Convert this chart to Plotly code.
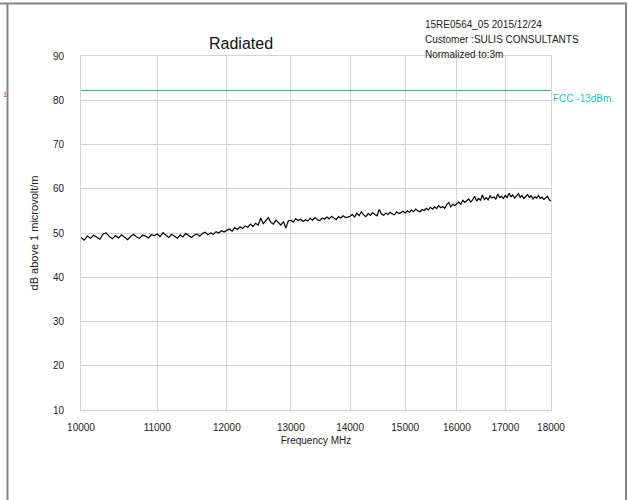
import plotly.graph_objects as go
import math

# ---- data ----
freq_start = 10000
freq_step = 40
level_dbuv = [
    # 10000-11000
    49.0, 48.4, 49.3, 48.8, 49.5, 49.1, 48.6, 49.8, 50.0, 49.2, 48.7, 49.4, 48.9, 49.6, 49.0, 48.5, 49.2, 49.7, 49.1, 48.8, 49.5, 49.3, 48.9, 49.6, 49.4,
    # 11000-12000
    49.8, 49.2, 50.1, 49.5, 49.0, 49.7, 49.3, 48.8, 49.6, 49.1, 49.9, 49.4, 49.0, 49.5, 49.8, 49.3, 49.9, 50.2, 49.6, 50.0, 49.7, 50.3, 50.0, 50.5, 50.2,
    # 12000-13000
    50.6, 50.9, 50.4, 51.2, 50.8, 51.4, 51.0, 51.6, 51.3, 52.0, 51.5, 52.2, 51.8, 53.4, 52.1, 52.8, 53.5, 52.4, 52.0, 52.9, 52.3, 51.8, 52.6, 51.1, 52.7,
    # 13000-14000
    52.9, 52.5, 53.2, 52.8, 53.1, 52.6, 53.0, 52.7, 53.3, 52.9, 53.5, 53.0, 52.8, 53.4, 53.1, 53.6, 53.2, 53.8, 53.3, 53.0, 53.7, 53.4, 53.9, 53.5, 53.6,
    # 14000-15000
    53.8, 54.2, 53.6, 54.5, 53.9, 54.8, 54.1, 53.7, 54.4, 54.0, 54.6, 54.2, 53.9, 55.3, 54.3, 54.0, 54.5, 54.2, 54.7, 54.3, 54.1, 54.8, 54.4, 54.6, 54.9,
    # 15000-16000
    54.5, 55.0, 54.7, 55.2, 54.8, 55.4, 55.0, 54.8, 55.3, 55.1, 55.6, 55.2, 55.8, 55.4, 55.9, 55.5, 56.2, 55.7, 56.0, 55.6, 56.4, 56.9, 55.9, 56.5, 56.2,
    # 16000-17000
    56.6, 57.0, 56.5, 57.4, 56.9, 57.2, 57.7, 57.0, 57.5, 58.3, 57.2, 57.8, 57.4, 58.6, 57.6, 58.0, 57.5, 58.4, 57.9, 58.2, 57.6, 58.8, 58.0, 58.3, 57.8,
    # 17000-18000
    58.5, 58.0, 59.0, 58.2, 58.6, 57.9, 58.4, 58.9, 58.1, 58.5, 57.8, 58.3, 58.7, 58.0, 58.4, 57.7, 58.2, 57.9, 58.5, 57.8, 58.1, 57.6, 57.9, 58.3, 57.5, 57.2,
]
freq_mhz = [freq_start + i * freq_step for i in range(len(level_dbuv))]

limit_name = "FCC -13dBm."
limit_value = 82.2
limit_freqs = [10000, 18000]

x_ticks = [10000, 11000, 12000, 13000, 14000, 15000, 16000, 17000, 18000]
y_ticks = [10, 20, 30, 40, 50, 60, 70, 80, 90]

title_text = "Radiated"
info_lines = ["15RE0564_05 2015/12/24", "Customer :SULIS CONSULTANTS", "Normalized to:3m"]
x_title = "Frequency MHz"
y_title = "dB above 1 microvolt/m"

# ---- layout geometry (pixels) ----
W, H = 628, 500
L, R, T, B = 81, 77, 56, 90
PW, PH = W - L - R, H - T - B


def px(x):
    return (x - L) / PW


def py(y):
    return (H - B - y) / PH


FONT = "Liberation Sans, Arial, Helvetica, sans-serif"
GRID = "#d4d4d4"

fig = go.Figure()
fig.add_trace(go.Scatter(x=freq_mhz, y=level_dbuv, mode="lines",
                         line=dict(color="black", width=1.2), showlegend=False,
                         hoverinfo="x+y"))
fig.add_trace(go.Scatter(x=limit_freqs, y=[limit_value] * len(limit_freqs), mode="lines",
                         line=dict(color="#23b0b4", width=1), showlegend=False))

annotations = [
    dict(text=title_text, x=px(241), y=py(33), xref="paper", yref="paper",
         showarrow=False, font=dict(size=16, color="#111", family=FONT)),
    dict(text=limit_name, x=1.0, y=limit_value, xref="paper", yref="y", xanchor="left",
         yanchor="top", xshift=0, showarrow=False, font=dict(size=10, color="#22c4d0", family=FONT)),
    dict(text="1", x=px(0.5), y=py(88), xref="paper", yref="paper", xanchor="left",
         showarrow=False, font=dict(size=8, color="#e03030", family=FONT)),
]
for i, line in enumerate(info_lines):
    annotations.append(dict(text=line, x=px(423), y=py(17 + 15 * i), xref="paper", yref="paper",
                            xanchor="left", showarrow=False,
                            font=dict(size=10, color="#222", family=FONT)))

frame = dict(color="#858585", width=2)
shapes = [
    dict(type="line", xref="paper", yref="paper", x0=px(0), x1=px(627), y0=py(3.5), y1=py(3.5), line=frame),
    dict(type="line", xref="paper", yref="paper", x0=px(7.5), x1=px(7.5), y0=py(3.5), y1=py(501), line=frame),
    dict(type="line", xref="paper", yref="paper", x0=px(626), x1=px(626), y0=py(3.5), y1=py(501), line=frame),
]

fig.update_layout(
    width=W, height=H,
    margin=dict(l=L, r=R, t=T, b=B, pad=0),
    paper_bgcolor="white", plot_bgcolor="white",
    font=dict(family=FONT, size=10, color="#222"),
    annotations=annotations, shapes=shapes,
    xaxis=dict(type="log", range=[math.log10(10000), math.log10(18000)],
               tickvals=x_ticks, ticktext=[str(v) for v in x_ticks],
               showgrid=True, gridcolor=GRID, gridwidth=1,
               showline=True, linecolor=GRID, mirror=True, zeroline=False,
               ticks="", ticklabelstandoff=8,
               tickfont=dict(size=10, color="#222"),
               title=dict(text=x_title, font=dict(size=10, color="#222"), standoff=4)),
    yaxis=dict(range=[10, 90], tickvals=y_ticks,
               showgrid=True, gridcolor=GRID, gridwidth=1,
               showline=True, linecolor=GRID, mirror=True, zeroline=False,
               ticks="", ticklabelstandoff=14,
               tickfont=dict(size=10, color="#222"),
               title=dict(text=y_title, font=dict(size=11, color="#222"), standoff=12)),
)

fig.write_html("out.html", config={"displayModeBar": False},
               post_script="document.body.style.margin='0';document.body.style.overflow='hidden';")
